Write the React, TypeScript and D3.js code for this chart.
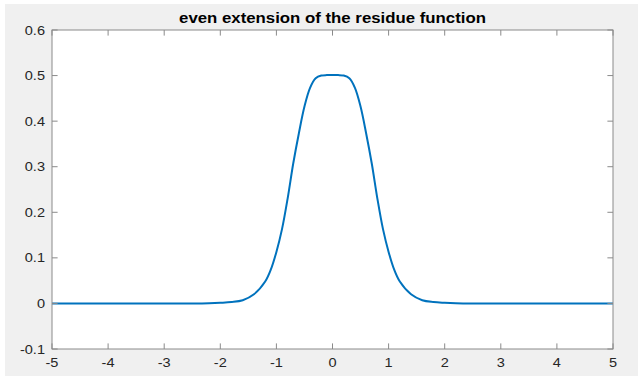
import React from "react";
import * as d3 from "d3";

const TITLE = "even extension of the residue function";
const xTicks = [-5, -4, -3, -2, -1, 0, 1, 2, 3, 4, 5];
const yTicks = [-0.1, 0, 0.1, 0.2, 0.3, 0.4, 0.5, 0.6];
const xTickLabels = ["-5", "-4", "-3", "-2", "-1", "0", "1", "2", "3", "4", "5"];
const yTickLabels = ["-0.1", "0", "0.1", "0.2", "0.3", "0.4", "0.5", "0.6"];

// samples (symmetric curve)
const xs = [
  -5, -4, -3, -2.5, -2.2, -2.0, -1.8, -1.6, -1.4, -1.2, -1.1, -1.0, -0.9, -0.8, -0.7, -0.6, -0.5, -0.4,
  -0.3, -0.2, -0.1, 0, 0.1, 0.2, 0.3, 0.4, 0.5, 0.6, 0.7, 0.8, 0.9, 1.0, 1.1, 1.2, 1.4, 1.6, 1.8, 2.0,
  2.2, 2.5, 3, 4, 5,
];
const ys = [
  0, 0, 0, 0.0001, 0.0006, 0.0015, 0.003, 0.007, 0.02, 0.048, 0.074, 0.113, 0.163, 0.23, 0.307, 0.373,
  0.432, 0.473, 0.494, 0.5, 0.501, 0.501, 0.501, 0.5, 0.494, 0.473, 0.432, 0.373, 0.307, 0.23, 0.163,
  0.113, 0.074, 0.048, 0.02, 0.007, 0.003, 0.0015, 0.0006, 0.0001, 0, 0, 0,
];

const W = 641;
const H = 380;
const L = 52;
const R = 613;
const T = 30;
const B = 349;
const FONT = "'Liberation Sans', Arial, Helvetica, sans-serif";
const SX = 1.12;

export default function App() {
  const x = d3.scaleLinear().domain([-5, 5]).range([L, R]);
  const y = d3.scaleLinear().domain([-0.1, 0.6]).range([B, T]);
  const pts = xs.map((v, i) => [v, ys[i]] as [number, number]);
  const line = d3
    .line<[number, number]>()
    .x((d) => x(d[0]))
    .y((d) => y(d[1]))
    .curve(d3.curveCatmullRom.alpha(0.5));
  const tl = 5.6;
  const axisColor = "#8a8a8a";
  const textColor = "#262626";
  return (
    <svg
      width={W}
      height={H}
      style={{ position: "absolute", left: 0, top: 0 }}
      xmlns="http://www.w3.org/2000/svg"
    >
      <rect x={0} y={0} width={W} height={H} fill="#ffffff" />
      <rect x={5} y={4} width={633} height={372} fill="#f0f0f0" />
      <rect x={L} y={T} width={R - L} height={B - T} fill="#ffffff" />
      <clipPath id="clip">
        <rect x={L} y={T} width={R - L} height={B - T} />
      </clipPath>
      <path
        d={line(pts) || ""}
        fill="none"
        stroke="#0072BD"
        strokeWidth={2}
        strokeLinejoin="round"
        clipPath="url(#clip)"
      />
      {xTicks.map((t, i) => (
        <g key={"x" + i}>
          <line x1={x(t)} x2={x(t)} y1={B} y2={B - tl} stroke={axisColor} />
          <line x1={x(t)} x2={x(t)} y1={T} y2={T + tl} stroke={axisColor} />
          <text
            transform={`translate(${x(t)},367) scale(${SX},1)`}
            textAnchor="middle"
            fontFamily={FONT}
            fontSize={13}
            fill={textColor}
          >
            {xTickLabels[i]}
          </text>
        </g>
      ))}
      {yTicks.map((t, i) => (
        <g key={"y" + i}>
          <line x1={L} x2={L + tl} y1={y(t)} y2={y(t)} stroke={axisColor} />
          <line x1={R} x2={R - tl} y1={y(t)} y2={y(t)} stroke={axisColor} />
          <text
            transform={`translate(45,${y(t) + 4.5}) scale(${SX},1)`}
            textAnchor="end"
            fontFamily={FONT}
            fontSize={13}
            fill={textColor}
          >
            {yTickLabels[i]}
          </text>
        </g>
      ))}
      <rect
        x={L}
        y={T}
        width={R - L}
        height={B - T}
        fill="none"
        stroke={axisColor}
        strokeWidth={1}
      />
      <text
        transform={`translate(${(L + R) / 2},23) scale(1.2,1)`}
        textAnchor="middle"
        fontFamily={FONT}
        fontSize={14}
        fontWeight="bold"
        fill="#000000"
      >
        {TITLE}
      </text>
    </svg>
  );
}
